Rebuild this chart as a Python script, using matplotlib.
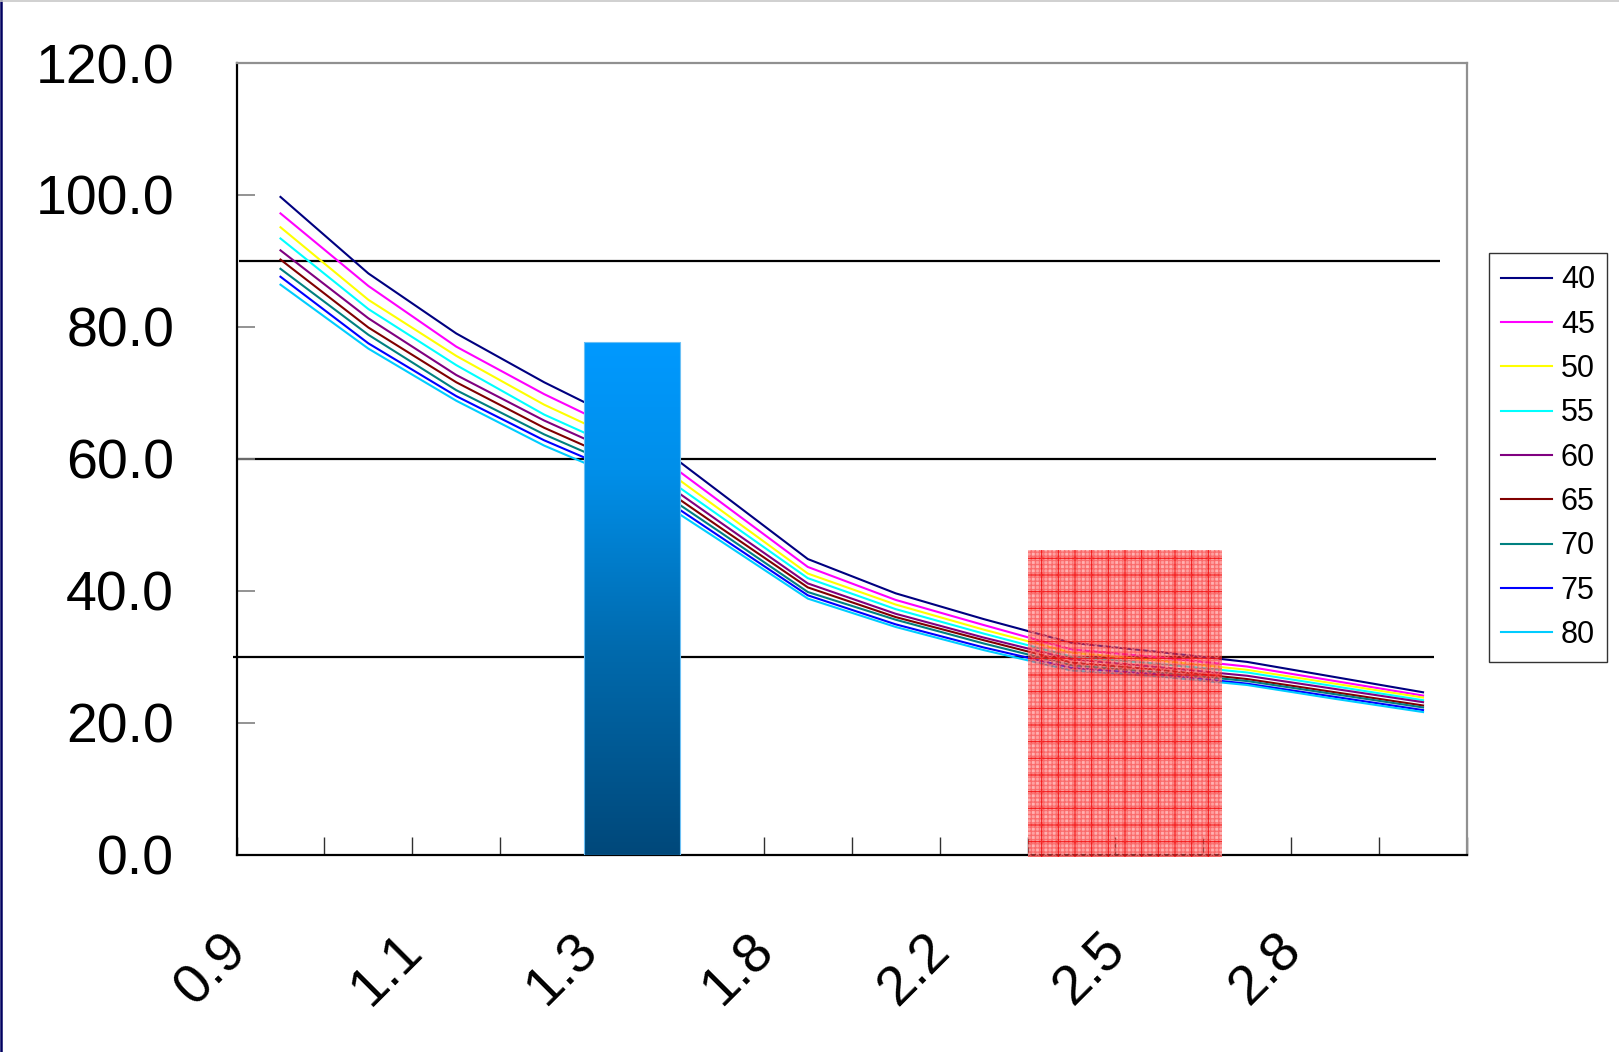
import numpy as np
import matplotlib
matplotlib.use('Agg')
import matplotlib.pyplot as plt
from matplotlib.colors import LinearSegmentedColormap
from matplotlib.patches import Rectangle
from matplotlib.lines import Line2D
from matplotlib.transforms import ScaledTranslation

plt.rcParams['font.family'] = ['Liberation Sans', 'DejaVu Sans']
plt.rcParams['hatch.linewidth'] = 1.0

# categories on the x axis (label shown on every second one)
n_points = 14
tick_labels = ['0.9', '1.1', '1.3', '1.8', '2.2', '2.5', '2.8']
label_every = 2

series_names = ['40', '45', '50', '55', '60', '65', '70', '75', '80']
s40 = [99.7, 88.1, 79.0, 71.6, 65.0, 54.9, 44.8, 39.6, 35.7, 32.1, 30.7, 29.2, 26.9, 24.6]
s45 = [97.2, 86.2, 77.0, 69.8, 63.4, 53.5, 43.6, 38.6, 34.8, 31.1, 29.9, 28.5, 26.3, 24.1]
s50 = [95.1, 84.1, 75.6, 68.2, 62.0, 52.3, 42.6, 37.9, 34.1, 30.6, 29.4, 28.0, 25.9, 23.8]
s55 = [93.4, 82.7, 74.2, 66.7, 60.7, 51.3, 41.9, 37.2, 33.5, 30.0, 28.9, 27.6, 25.5, 23.4]
s60 = [91.6, 81.3, 72.7, 65.8, 59.8, 50.4, 41.1, 36.5, 32.9, 29.6, 28.4, 27.1, 25.1, 23.1]
s65 = [90.2, 79.9, 71.6, 64.7, 58.8, 49.6, 40.5, 36.0, 32.5, 29.1, 28.0, 26.6, 24.6, 22.6]
s70 = [88.8, 78.8, 70.4, 63.7, 57.9, 48.9, 39.8, 35.6, 32.0, 28.7, 27.6, 26.3, 24.3, 22.3]
s75 = [87.6, 77.5, 69.5, 62.8, 57.1, 48.2, 39.3, 34.9, 31.4, 28.3, 27.3, 25.9, 23.9, 21.9]
s80 = [86.4, 76.7, 68.8, 62.0, 56.3, 47.6, 38.8, 34.5, 31.0, 27.9, 27.0, 25.7, 23.6, 21.6]
series_values = [s40, s45, s50, s55, s60, s65, s70, s75, s80]
series_colors = ['#000080', '#FF00FF', '#FFFF00', '#00FFFF', '#800080',
                 '#800000', '#008080', '#0000FF', '#00CCFF']

# highlighted column and shaded band
bar_category = 4
bar_value = 77.7
band_start, band_end = 8.5, 10.71
band_low, band_high = -0.4, 46.2

# reference levels drawn as black rules
ref_levels = [90, 60, 30]
ref_spans = [(-0.47, 13.19), (-0.49, 13.15), (-0.54, 13.12)]

fig = plt.figure(figsize=(16.19, 10.52), dpi=100)
ax = fig.add_axes([0.1461, 0.1877, 0.760, 0.7524])

x = np.arange(n_points)

for level, (x0, x1) in zip(ref_levels, ref_spans):
    ax.hlines(level, x0, x1, color='black', lw=1.6, zorder=1, clip_on=False)

handles = []
for name, vals, col in zip(series_names, series_values, series_colors):
    ln, = ax.plot(x, vals, color=col, lw=1.5, label=name, zorder=2)
    handles.append(ln)

# gradient column
bars = ax.bar(bar_category, bar_value, width=1.09, color='none',
              edgecolor='#6cc0f5', lw=0.8, zorder=4)
cmap = LinearSegmentedColormap.from_list(
    'col', [(0.0, '#00487a'), (0.4, '#006aad'), (0.75, '#008fe9'), (1.0, '#0099ff')])
grad = np.linspace(0, 1, 256).reshape(-1, 1)
im = ax.imshow(grad, extent=[bar_category - 0.545, bar_category + 0.545, 0, bar_value],
               origin='lower', cmap=cmap, aspect='auto', zorder=3)
im.set_clip_path(bars[0])

# red patterned band: fine texture plus a coarser grid
band = Rectangle((band_start, band_low), band_end - band_start, band_high - band_low,
                 facecolor=(1.0, 0.4, 0.4, 0.5), edgecolor=(1.0, 0.6, 0.6, 0.7),
                 hatch='xxxx', lw=0, zorder=5, clip_on=False)
ax.add_patch(band)
grid = Rectangle((band_start, band_low), band_end - band_start, band_high - band_low,
                 facecolor='none', edgecolor=(0.95, 0.0, 0.0, 0.75),
                 hatch='+', lw=0, zorder=5.1, clip_on=False)
ax.add_patch(grid)
grid2 = Rectangle((band_start, band_low), band_end - band_start, band_high - band_low,
                  facecolor='none', edgecolor=(0.95, 0.0, 0.0, 0.35),
                  hatch='++++', lw=0, zorder=5.2, clip_on=False)
ax.add_patch(grid2)

ax.set_xlim(-0.5, n_points - 0.5)
ax.set_ylim(0, 120)

# y axis
ax.set_yticks(np.arange(0, 121, 20))
ax.set_yticklabels(['%.1f' % v for v in np.arange(0, 121, 20)])
ax.tick_params(axis='y', direction='in', length=13, width=1.2, color='#808080',
               labelsize=40, pad=45)

# x axis: boundary ticks, rotated labels
ax.set_xticks(np.arange(-0.5, n_points, 1), minor=True)
ax.tick_params(axis='x', which='minor', direction='in', length=13, width=1.0,
               color='#303030')
ax.set_xticks(np.arange(0, n_points, label_every))
ax.tick_params(axis='x', which='major', length=0, pad=83, labelsize=40)
ax.set_xticklabels(tick_labels, rotation=45, ha='center', va='center')
shift = ScaledTranslation(-0.69, 0, fig.dpi_scale_trans)
for lbl in ax.get_xticklabels():
    lbl.set_transform(lbl.get_transform() + shift)

for side in ['left', 'bottom']:
    ax.spines[side].set_color('black')
    ax.spines[side].set_linewidth(1.6)
for side in ['top', 'right']:
    ax.spines[side].set_color('#909090')
    ax.spines[side].set_linewidth(1.6)

leg = ax.legend(handles=handles, loc='upper left',
                bbox_to_anchor=(1489 / 1619, 1 - 253 / 1052),
                bbox_transform=fig.transFigure, fontsize=22, frameon=True,
                fancybox=False, framealpha=1, edgecolor='#333333',
                labelspacing=0.47, handlelength=1.65, handletextpad=0.3,
                borderpad=0.4, borderaxespad=0)
leg.get_frame().set_linewidth(1.0)

# frame edges of the slide
fig.add_artist(Line2D([0.0008, 0.0008], [0, 1], color='#000060', lw=1.8,
                      transform=fig.transFigure))
fig.add_artist(Line2D([0, 1], [0.9995, 0.9995], color='#c8c8c8', lw=1.2,
                      transform=fig.transFigure))

fig.savefig('out.png', dpi=100)
